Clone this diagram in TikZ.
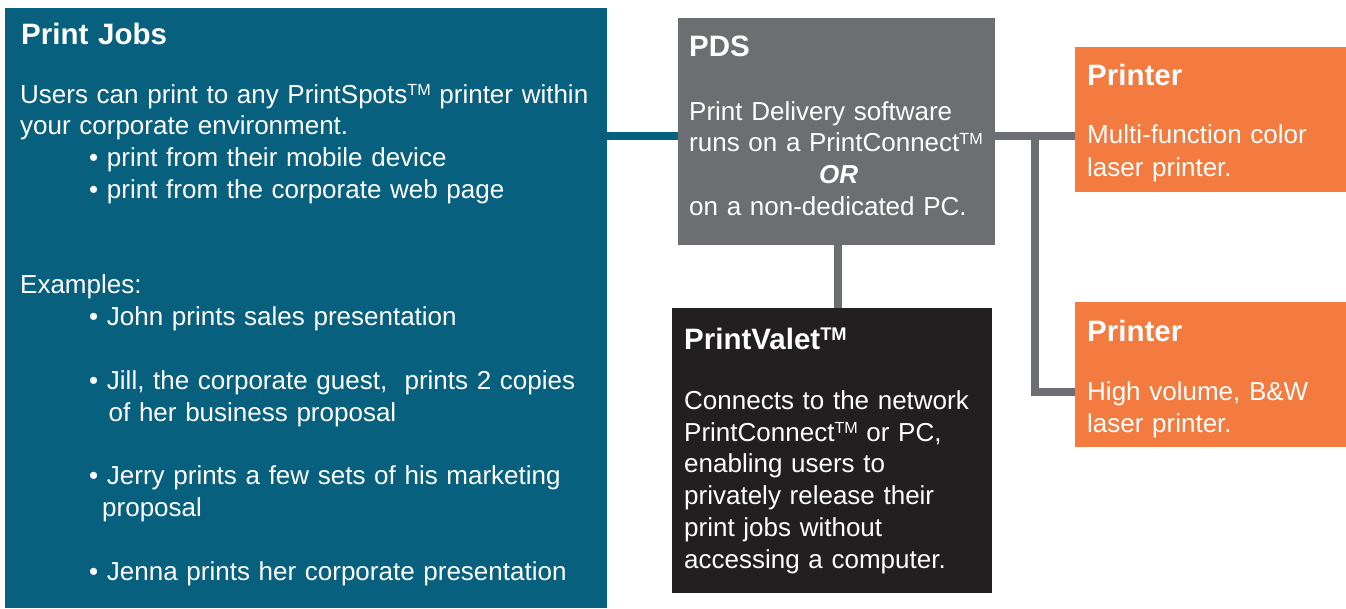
\documentclass[tikz,border=0pt]{standalone}
\usepackage{fontspec}
\setmainfont{Liberation Sans}
\definecolor{jobblue}{HTML}{08607F}
\definecolor{pdsgray}{HTML}{6D6E71}
\definecolor{valetdark}{HTML}{231F20}
\definecolor{printorange}{HTML}{F37B40}
\newcommand{\tmk}{\raisebox{0.3em}{\scalebox{0.62}{TM}}}
\begin{document}
\begin{tikzpicture}[x=1pt,y=-1pt,
  boxnode/.style={draw=none,rectangle,inner sep=0pt,anchor=north west},
  titletext/.style={anchor=base west,inner sep=0pt,text=white,align=left,text width=#1,
    font=\fontsize{29.5}{34}\selectfont\bfseries},
  titletext/.default=250pt,
  bodytext/.style={anchor=base west,inner sep=0pt,text=white,align=left,text width=#1,
    font=\fontsize{26}{31.8}\selectfont},
  bodytext/.default=300pt,
  linkline/.style={line width=8.5pt,draw=pdsgray}]
\useasboundingbox (0,0) rectangle (1346,608);
% boxes
\node[boxnode,fill=jobblue,minimum width=602pt,minimum height=600pt] (jobs) at (5,8) {};
\node[boxnode,fill=pdsgray,minimum width=317pt,minimum height=227pt] (pds) at (678,18) {};
\node[boxnode,fill=valetdark,minimum width=320pt,minimum height=285pt] (valet) at (672,308) {};
\node[boxnode,fill=printorange,minimum width=272pt,minimum height=145pt] (pa) at (1075,47) {};
\node[boxnode,fill=printorange,minimum width=272pt,minimum height=145pt] (pb) at (1075,302) {};
% connectors
\coordinate (ly) at (0,136);
\coordinate (br) at (1035,136);
\coordinate (bb) at (1035,392);
\coordinate (vx) at (838,0);
\draw[linkline,draw=jobblue] (jobs.east |- ly) -- (pds.west |- ly);
\draw[linkline] (pds.east |- ly) -- (pa.west |- ly);
\draw[linkline] (vx |- pds.south) -- (vx |- valet.north);
\draw[linkline,line join=miter] (br) -- (bb) -- (pb.west |- bb);
% Print Jobs
\node[titletext] (jobstitle) at (21,44) {Print Jobs};
\node[bodytext=590pt] (jobsbody) at (20,103) {Users can print to any PrintSpots\tmk{} printer within\\
your corporate environment.\\
\hspace*{69pt}• print from their mobile device\\
\hspace*{69pt}• print from the corporate web page\\[63.6pt]
Examples:\\
\hspace*{69pt}• John prints sales presentation\\[31.8pt]
\hspace*{69pt}• Jill, the corporate guest,~ prints 2 copies\\
\hspace*{88.5pt}of her business proposal\\[31.8pt]
\hspace*{69pt}• Jerry prints a few sets of his marketing\\
\hspace*{82pt}proposal\\[31.8pt]
\hspace*{69pt}• Jenna prints her corporate presentation};
% PDS
\node[titletext] (pdstitle) at (689,56) {PDS};
\node[bodytext] (pdsbody) at (689,120) {Print Delivery software\\
runs on a PrintConnect\tmk\\
\hspace*{130pt}\textbf{\textit{OR}}\\
on a non-dedicated PC.};
% Printers
\node[titletext] (patitle) at (1087,85) {Printer};
\node[bodytext=255pt,font=\fontsize{26}{32.5}\selectfont] (pabody) at (1087,143.5) {Multi-function color\\laser printer.};
\node[titletext] (pbtitle) at (1087,341) {Printer};
\node[bodytext=255pt,font=\fontsize{26}{32.5}\selectfont] (pbbody) at (1087,400) {High volume, B\&W\\laser printer.};
% PrintValet
\node[titletext] (valettitle) at (684,349.5) {PrintValet\tmk};
\node[bodytext] (valetbody) at (684,409.3) {Connects to the network\\
PrintConnect\tmk{} or PC,\\
enabling users to\\
privately release their\\
print jobs without\\
accessing a computer.};
\end{tikzpicture}
\end{document}
